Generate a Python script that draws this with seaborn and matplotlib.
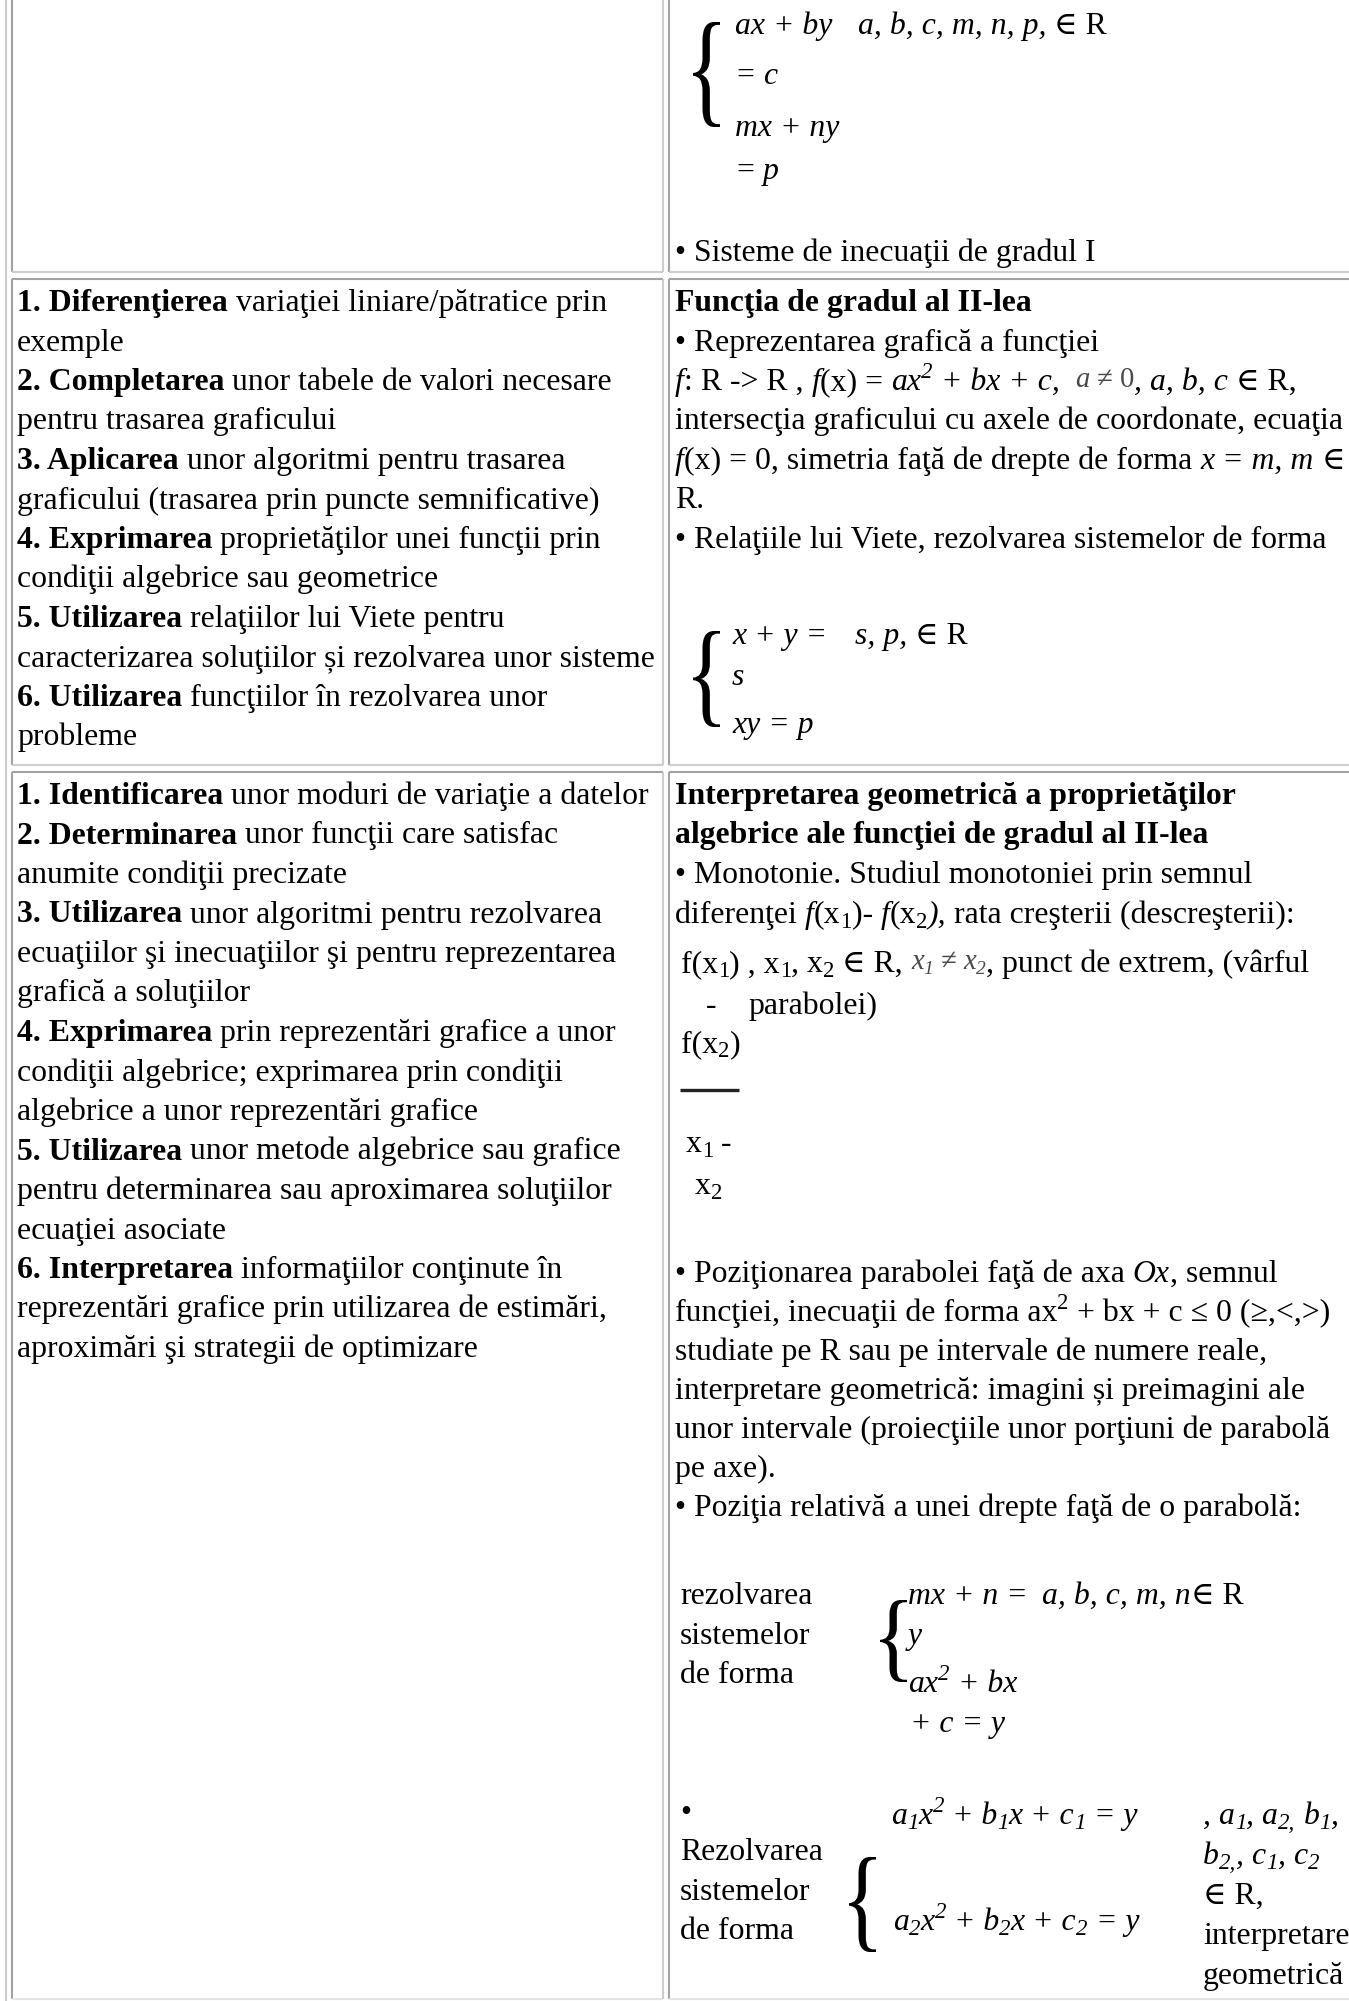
import numpy as np
import pandas as pd
import seaborn as sns
import matplotlib
matplotlib.use("Agg")
import matplotlib.pyplot as plt
from matplotlib.font_manager import FontProperties
from matplotlib.textpath import TextPath
from matplotlib.patches import PathPatch
from matplotlib.transforms import Affine2D

# ---- text content (runs: text, style) ----
# styles: n normal, b bold, i italic, sub/sup, isub/isup, g (pasted formula image)
row2_left = [
    [("1. Diferenţierea", "b"), (" variaţiei liniare/pătratice prin", "n")],
    [("exemple", "n")],
    [("2. Completarea", "b"), (" unor tabele de valori necesare", "n")],
    [("pentru trasarea graficului", "n")],
    [("3. Aplicarea", "b"), (" unor algoritmi pentru trasarea", "n")],
    [("graficului (trasarea prin puncte semnificative)", "n")],
    [("4. Exprimarea", "b"), (" proprietăţilor unei funcţii prin", "n")],
    [("condiţii algebrice sau geometrice", "n")],
    [("5. Utilizarea", "b"), (" relaţiilor lui Viete pentru", "n")],
    [("caracterizarea soluţiilor și rezolvarea unor sisteme", "n")],
    [("6. Utilizarea", "b"), (" funcţiilor în rezolvarea unor", "n")],
    [("probleme", "n")],
]

row3_left = [
    [("1. Identificarea", "b"), (" unor moduri de variaţie a datelor", "n")],
    [("2. Determinarea", "b"), (" unor funcţii care satisfac", "n")],
    [("anumite condiţii precizate", "n")],
    [("3. Utilizarea", "b"), (" unor algoritmi pentru rezolvarea", "n")],
    [("ecuaţiilor şi inecuaţiilor şi pentru reprezentarea", "n")],
    [("grafică a soluţiilor", "n")],
    [("4. Exprimarea", "b"), (" prin reprezentări grafice a unor", "n")],
    [("condiţii algebrice; exprimarea prin condiţii", "n")],
    [("algebrice a unor reprezentări grafice", "n")],
    [("5. Utilizarea", "b"), (" unor metode algebrice sau grafice", "n")],
    [("pentru determinarea sau aproximarea soluţiilor", "n")],
    [("ecuaţiei asociate", "n")],
    [("6. Interpretarea", "b"), (" informaţiilor conţinute în", "n")],
    [("reprezentări grafice prin utilizarea de estimări,", "n")],
    [("aproximări şi strategii de optimizare", "n")],
]

row1_system = [
    [("ax + by", "i")],
    [("a, b, c, m, n, p, ", "i"), ("∈ R", "n")],
    [("= ", "n"), ("c", "i")],
    [("mx + ny", "i")],
    [("= ", "n"), ("p", "i")],
]
row1_bullet = [("• Sisteme de inecuaţii de gradul I", "n")]

row2_right = [
    [("Funcţia de gradul al II-lea", "b")],
    [("• Reprezentarea grafică a funcţiei", "n")],
    [("f", "i"), (": R -> R , ", "n"), ("f", "i"), ("(x) = ", "n"), ("ax", "i"), ("2", "isup"),
     (" + bx + c,  ", "i"), ("a", "g"), (" ≠ 0", "gn"), (", a, b, c ", "i"), ("∈ R,", "n")],
    [("intersecţia graficului cu axele de coordonate, ecuaţia", "n")],
    [("f", "i"), ("(x) = 0, simetria faţă de drepte de forma ", "n"), ("x = m, m ", "i"), ("∈", "n")],
    [("R.", "n")],
    [("• Relaţiile lui Viete, rezolvarea sistemelor de forma", "n")],
]
row2_system = [
    [("x + y =", "i")],
    [("s, p, ", "i"), ("∈ R", "n")],
    [("s", "i")],
    [("xy = p", "i")],
]

row3_right_top = [
    [("Interpretarea geometrică a proprietăţilor", "b")],
    [("algebrice ale funcţiei de gradul al II-lea", "b")],
    [("• Monotonie. Studiul monotoniei prin semnul", "n")],
    [("diferenţei ", "n"), ("f", "i"), ("(x", "n"), ("1", "sub"), (")- ", "n"), ("f", "i"),
     ("(x", "n"), ("2", "sub"), ("),", "i"), (" rata creşterii (descreşterii):", "n")],
]
rate_fraction = [
    [("f(x", "n"), ("1", "sub"), (") , x", "n"), ("1", "sub"), (", x", "n"), ("2", "sub"),
     (" ∈ R, ", "n"), ("x", "g"), ("1", "gsub"), (" ≠ ", "gn"), ("x", "g"), ("2", "gsub"),
     (", punct de extrem, (vârful", "n")],
    [("-", "n")],
    [("parabolei)", "n")],
    [("f(x", "n"), ("2", "sub"), (")", "n")],
    [("x", "n"), ("1", "sub"), (" -", "n")],
    [("x", "n"), ("2", "sub")],
]
row3_right_mid = [
    [("• Poziţionarea parabolei faţă de axa ", "n"), ("Ox", "i"), (", semnul", "n")],
    [("funcţiei, inecuaţii de forma ax", "n"), ("2", "sup"), (" + bx + c ≤ 0 (≥,<,>)", "n")],
    [("studiate pe R sau pe intervale de numere reale,", "n")],
    [("interpretare geometrică: imagini și preimagini ale", "n")],
    [("unor intervale (proiecţiile unor porţiuni de parabolă", "n")],
    [("pe axe).", "n")],
    [("• Poziţia relativă a unei drepte faţă de o parabolă:", "n")],
]
label_a = ["rezolvarea", "sistemelor", "de forma"]
system_a = [
    [("mx + n =", "i")],
    [("a, b, c, m, n", "i"), ("∈ R", "n")],
    [("y", "i")],
    [("ax", "i"), ("2", "isup"), (" + bx", "i")],
    [("+ c = y", "i")],
]
label_b = ["•", "Rezolvarea", "sistemelor", "de forma"]
system_b = [
    [("a", "i"), ("1", "isub"), ("x", "i"), ("2", "isup"), (" + b", "i"), ("1", "isub"),
     ("x + c", "i"), ("1", "isub"), (" = y", "i")],
    [("a", "i"), ("2", "isub"), ("x", "i"), ("2", "isup"), (" + b", "i"), ("2", "isub"),
     ("x + c", "i"), ("2", "isub"), (" = y", "i")],
]
params_b = [
    [(", a", "i"), ("1", "isub"), (", a", "i"), ("2,", "isub"), (" b", "i"), ("1", "isub"), (",", "i")],
    [("b", "i"), ("2,", "isub"), (", c", "i"), ("1", "isub"), (", c", "i"), ("2", "isub")],
    [("∈ R,", "n")],
    [("interpretare", "n")],
    [("geometrică", "n")],
]

# ---- figure ----
W, H = 1349, 2001
sns.set_theme(style="white")
plt.rcParams["font.family"] = ["Liberation Serif", "DejaVu Serif"]
FAM = ["Liberation Serif", "DejaVu Serif"]

fig = plt.figure(figsize=(W / 100, H / 100), dpi=100)
ax = fig.add_axes([0, 0, 1, 1])
ax.set_xlim(0, W)
ax.set_ylim(H, 0)
ax.axis("off")
renderer = fig.canvas.get_renderer()


def width(s, prop):
    w1 = renderer.get_text_width_height_descent("|" + s + "|", prop, ismath=False)[0]
    w0 = renderer.get_text_width_height_descent("||", prop, ismath=False)[0]
    return w1 - w0


# calibrate body size on the widest left-column line (~639 px)
probe = FontProperties(family=FAM, size=10)
FS = 10 * 639 / width("caracterizarea soluţiilor și rezolvarea unor sisteme", probe)
PX = FS / 0.72  # font size in pixels


def props(st):
    italic = st.startswith("i") or st in ("g", "gsub")
    bold = st == "b"
    small = st.endswith("sub") or st.endswith("sup")
    size = FS * (0.72 if small else 1.0)
    color = "black"
    dy = 0
    if st.startswith("g"):
        size = size * (0.9 if st != "gsub" else 0.85)
        color = "#4a4a4a"
        dy = -0.1 * PX
    if st.endswith("sup"):
        dy = -0.38 * PX
    if st.endswith("sub"):
        dy += 0.16 * PX
    fp = FontProperties(family=FAM, size=size, style="italic" if italic else "normal",
                        weight="bold" if bold else "normal")
    return fp, dy, color


def draw_runs(x, y, runs):
    for s, st in runs:
        fp, dy, color = props(st)
        ax.text(x, y + dy, s, fontproperties=fp, color=color, ha="left", va="baseline")
        x += width(s, fp)


def draw_block(x, y0, lines, pitch=39.5):
    for k, runs in enumerate(lines):
        draw_runs(x, y0 + k * pitch, runs)


def brace(x0, y0, w, h):
    tp = TextPath((0, 0), "{", size=100, prop=FontProperties(family="Liberation Serif"))
    e = tp.get_extents()
    t = Affine2D().translate(-e.x0, -e.y0).scale(w / e.width, -h / e.height).translate(x0, y0 + h)
    ax.add_patch(PathPatch(t.transform_path(tp), fc="black", ec="none", lw=0))


# ---- table borders ----
light, dark, lw = "#cdcdcd", "#a2a2a2", 1.5
rows = [(-5, 272), (279, 765), (772, 1999)]
ax.vlines(6, 0, H, color=light, lw=lw)
for top, bot in rows:
    for xl, xr in [(12, 663), (669, W + 10)]:
        ax.hlines(top, xl, xr, color=dark, lw=lw)
        ax.vlines(xl, top, bot, color=dark, lw=lw)
        ax.hlines(bot, xl, xr, color=light if bot < 1990 else "#e4e4e4", lw=lw)
        ax.vlines(xr, top, bot, color=light, lw=lw)

# ---- row 1 ----
brace(693, 22, 27, 105)
for runs, (x, y) in zip(row1_system, [(735, 34), (858, 34), (737, 84), (735, 136), (737, 179)]):
    draw_runs(x, y, runs)
draw_runs(675, 261, row1_bullet)

# ---- row 2 ----
draw_block(17, 311, row2_left)
draw_block(675, 311, row2_right)
brace(693, 631, 27, 96)
for runs, (x, y) in zip(row2_system, [(732, 644), (855, 644), (732, 685), (732, 733)]):
    draw_runs(x, y, runs)

# ---- row 3 ----
draw_block(17, 804, row3_left)
draw_block(675, 804, row3_right_top)
for runs, (x, y) in zip(rate_fraction, [(681, 972), (706, 1014), (748, 1014), (681, 1052),
                                        (686, 1152), (695, 1194)]):
    draw_runs(x, y, runs)
ax.hlines(1090, 680, 739, color="#222222", lw=2.4)
draw_block(675, 1282, row3_right_mid, pitch=39.0)

for k, s in enumerate(label_a):
    draw_runs(680, 1604 + k * 39.5, [(s, "n")])
brace(880, 1600, 27, 82)
for runs, (x, y) in zip(system_a, [(908, 1604), (1042, 1604), (908, 1644), (908, 1692), (910, 1732)]):
    draw_runs(x, y, runs)

for k, s in enumerate(label_b):
    draw_runs(680, 1821 + k * 39.3, [(s, "n")])
brace(849, 1857, 27, 95)
for runs, (x, y) in zip(system_b, [(891, 1824), (893, 1930)]):
    draw_runs(x, y, runs)
draw_block(1203, 1824, params_b, pitch=40.0)

fig.savefig("out.png", dpi=100)
